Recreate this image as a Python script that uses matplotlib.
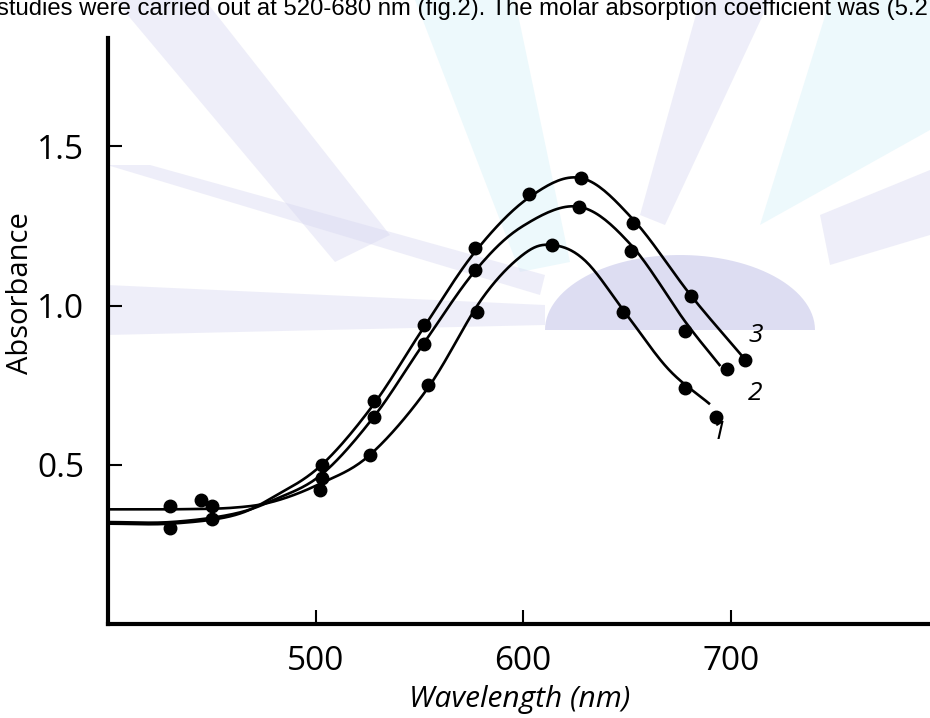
import numpy as np
import matplotlib.pyplot as plt
from matplotlib.patches import Polygon

# measured points (wavelength nm, absorbance)
wl_1 = [502, 526, 554, 578, 614, 648, 678, 693]
abs_1 = [0.42, 0.53, 0.75, 0.98, 1.19, 0.98, 0.74, 0.65]
wl_2 = [450, 503, 528, 552, 577, 627, 652, 678, 698]
abs_2 = [0.33, 0.46, 0.65, 0.88, 1.11, 1.31, 1.17, 0.92, 0.80]
wl_3 = [430, 445, 450, 503, 528, 552, 577, 603, 628, 653, 681, 707]
abs_3 = [0.30, 0.39, 0.37, 0.50, 0.70, 0.94, 1.18, 1.35, 1.40, 1.26, 1.03, 0.83]
extra_wl = [430]
extra_abs = [0.37]

# fitted curves as drawn in the figure
cw_1 = [400, 430, 460, 480, 502, 526, 554, 580, 600, 614, 630, 650, 670, 690]
ca_1 = [0.36, 0.36, 0.365, 0.385, 0.44, 0.53, 0.74, 1.02, 1.16, 1.19, 1.14, 0.97, 0.80, 0.69]
cw_2 = [400, 430, 460, 480, 503, 528, 552, 577, 600, 627, 652, 678, 695]
ca_2 = [0.32, 0.32, 0.345, 0.39, 0.47, 0.65, 0.88, 1.11, 1.25, 1.31, 1.19, 0.95, 0.81]
cw_3 = [400, 430, 460, 480, 503, 528, 552, 577, 603, 628, 653, 681, 707]
ca_3 = [0.315, 0.315, 0.34, 0.40, 0.50, 0.69, 0.93, 1.17, 1.34, 1.40, 1.27, 1.03, 0.83]

labels = ['1', '2', '3']
label_pos = [(694, 0.60), (712, 0.725), (712, 0.905)]


def smooth(xs, ys, n=20):
    # catmull-rom through the read points, for drawing only
    p = np.column_stack([xs, ys]).astype(float)
    p = np.vstack([2 * p[0] - p[1], p, 2 * p[-1] - p[-2]])
    out = []
    t = np.linspace(0, 1, n, endpoint=False)[:, None]
    for i in range(1, len(p) - 2):
        p0, p1, p2, p3 = p[i - 1], p[i], p[i + 1], p[i + 2]
        seg = 0.5 * ((2 * p1) + (-p0 + p2) * t + (2 * p0 - 5 * p1 + 4 * p2 - p3) * t ** 2
                     + (-p0 + 3 * p1 - 3 * p2 + p3) * t ** 3)
        out.append(seg)
    out.append(p[-2][None, :])
    out = np.vstack(out)
    return out[:, 0], out[:, 1]


W, H = 930, 718
fig = plt.figure(figsize=(9.3, 7.18), dpi=100)

# faint watermark behind the chart (pixel coords, y from top)
bg = fig.add_axes([0, 0, 1, 1])
bg.set_xlim(0, W)
bg.set_ylim(H, 0)
bg.axis('off')
lav = '#d6d6f0'
cya = '#d3f1f8'
shapes = [
    ([(115, 0), (205, 0), (390, 235), (335, 262)], lav),
    ([(415, 0), (515, 0), (570, 262), (520, 272)], cya),
    ([(700, 0), (770, 0), (665, 225), (640, 215)], lav),
    ([(830, 0), (930, 0), (930, 130), (760, 225)], cya),
    ([(107, 165), (150, 165), (545, 275), (540, 295)], lav),
    ([(107, 285), (545, 305), (545, 325), (107, 335)], lav),
    ([(820, 215), (930, 170), (930, 235), (830, 265)], lav),
]
for pts, c in shapes:
    bg.add_patch(Polygon(pts, closed=True, fc=c, ec='none', alpha=0.4))
th = np.linspace(0, np.pi, 60)
dome = np.column_stack([680 + 135 * np.cos(th), 330 - 75 * np.sin(th)])
bg.add_patch(Polygon(dome, closed=True, fc='#d2d2ee', ec='none', alpha=0.75))

ax = fig.add_axes([108 / 930, 94 / 718, 822 / 930, 586 / 718])

for cw, ca in [(cw_1, ca_1), (cw_2, ca_2), (cw_3, ca_3)]:
    sx, sy = smooth(cw, ca)
    ax.plot(sx, sy, color='black', lw=1.9, solid_capstyle='butt')

for w, a in [(wl_1, abs_1), (wl_2, abs_2), (wl_3, abs_3), (extra_wl, extra_abs)]:
    ax.plot(w, a, 'o', color='black', ms=9, mec='black')

for lab, (x, y) in zip(labels, label_pos):
    ax.text(x, y, lab, fontsize=19, style='italic', family='Open Sans', ha='center', va='center')

ax.set_xlim(400, 796)
ax.set_ylim(0, 1.84)
ax.set_xticks([500, 600, 700])
ax.set_yticks([0.5, 1.0, 1.5])
ax.set_yticklabels(['0.5', '1.0', '1.5'])
ax.tick_params(direction='in', length=10, width=1.5, labelsize=24)
for lbl in ax.get_xticklabels() + ax.get_yticklabels():
    lbl.set_family('Open Sans')
ax.tick_params(axis='x', pad=15)
ax.tick_params(axis='y', pad=17)
ax.spines['top'].set_visible(False)
ax.spines['right'].set_visible(False)
ax.spines['left'].set_linewidth(3)
ax.spines['bottom'].set_linewidth(3)
ax.patch.set_alpha(0)

fig.text(20 / W, 1 - 293 / H, 'Absorbance', fontsize=21, family='Open Sans',
         rotation=90, ha='center', va='center')
fig.text(520 / W, 1 - 699 / H, 'Wavelength (nm)', fontsize=21.5, family='Open Sans',
         style='italic', ha='center', va='center')

fig.text(-0.003, 1 - 15 / H, 'studies were carried out at 520-680 nm (fig.2). The molar absorption coefficient was (5.2',
         fontsize=17.2, family='Liberation Sans', va='baseline', ha='left')

fig.savefig('out.png', dpi=100)
